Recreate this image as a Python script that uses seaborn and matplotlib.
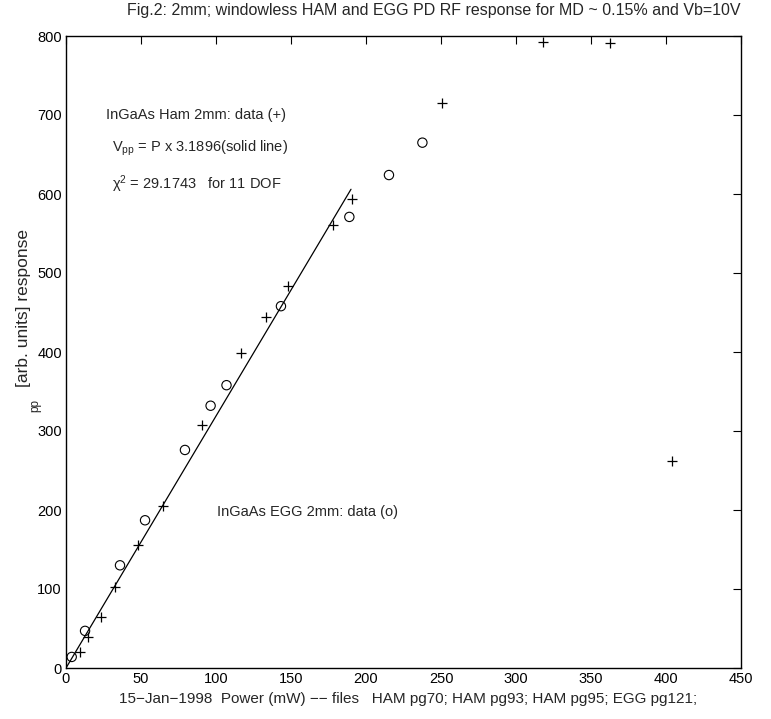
import matplotlib
matplotlib.use("Agg")
import matplotlib.pyplot as plt
import seaborn as sns
import pandas as pd

# HAM photodiode data (+)
ham_power = [9.3, 14.7, 23.3, 32.7, 48.0, 64.7, 90.4, 116.4, 133.0, 148.2, 178.2, 190.4,
             250.4, 318.0, 362.7, 404.0]
ham_vpp = [20, 39, 65, 102, 156, 205, 308, 399, 444, 483, 561, 594,
           715, 793, 791, 262]

# EGG photodiode data (o)
egg_power = [3.8, 12.7, 36.0, 52.7, 79.3, 96.4, 107.0, 143.3, 188.9, 215.3, 237.6]
egg_vpp = [14, 47, 130, 187, 276, 332, 358, 458, 571, 624, 665]

# fit: Vpp = P x 3.1896 (solid line)
fit_power = [0, 190]
fit_vpp = [0.0, 606.0]

x_ticks = [0, 50, 100, 150, 200, 250, 300, 350, 400, 450]
y_ticks = [0, 100, 200, 300, 400, 500, 600, 700, 800]

sns.set_style("white")
plt.rcParams['font.family'] = ['Liberation Sans', 'DejaVu Sans']
plt.rcParams['mathtext.fontset'] = 'custom'
plt.rcParams['mathtext.rm'] = 'Liberation Sans'
plt.rcParams['mathtext.it'] = 'Liberation Sans:italic'

fig = plt.figure(figsize=(7.71, 7.19), dpi=100)
ax = fig.add_axes([66 / 771, 1 - 668 / 719, 675 / 771, 632 / 719])

ham = pd.DataFrame({'power': ham_power, 'vpp': ham_vpp})
egg = pd.DataFrame({'power': egg_power, 'vpp': egg_vpp})
fit = pd.DataFrame({'power': fit_power, 'vpp': fit_vpp})

sns.lineplot(data=fit, x='power', y='vpp', color='k', linewidth=0.9, ax=ax)
sns.scatterplot(data=ham, x='power', y='vpp', marker='+', color='k', s=50,
                linewidth=0.9, ax=ax)
sns.scatterplot(data=egg, x='power', y='vpp', marker='o', color='k', facecolor='none',
                edgecolor='k', s=45, linewidth=0.8, ax=ax)

ax.set_xlim(0, 450)
ax.set_ylim(0, 800)
ax.set_xticks(x_ticks)
ax.set_yticks(y_ticks)
ax.tick_params(direction='in', top=True, right=True, length=6, width=0.8,
               labelsize=10.5, colors='k', pad=3)
for s in ax.spines.values():
    s.set_linewidth(1.0)
    s.set_color('k')

ax.set_xlabel("15\u2212Jan\u22121998  Power (mW) \u2212\u2212 files   HAM pg70; HAM pg93; HAM pg95; EGG pg121;",
              fontsize=11)
ax.xaxis.set_label_coords((408 - 66) / 675, -(699 - 668) / 632)
ax.xaxis.label.set_va('center')

ax.set_ylabel("[arb. units] response", fontsize=12.5)
ax.yaxis.set_label_coords((31 - 66) / 675, (668 - 308) / 632)
fig.text(35 / 771, 1 - 405 / 719, "pp", rotation=90, fontsize=8.5,
         ha='center', va='center')

fig.text(434 / 771, 1 - 11 / 719,
         "Fig.2: 2mm; windowless HAM and EGG PD RF response for MD ~ 0.15% and Vb=10V",
         ha='center', va='center', fontsize=11.5)

ax.text(27, 700, "InGaAs Ham 2mm: data (+)", fontsize=10.5, va='center')
ax.text(30.5, 658, r"V$_{\mathrm{pp}}$ = P x 3.1896(solid line)", fontsize=10.5, va='center')
ax.text(30.5, 612, "\u03c7$^{2}$ = 29.1743   for 11 DOF", fontsize=10.5, va='center')
ax.text(100.4, 198, "InGaAs EGG 2mm: data (o)", fontsize=10.5, va='center')

fig.savefig("out.png", dpi=100)
